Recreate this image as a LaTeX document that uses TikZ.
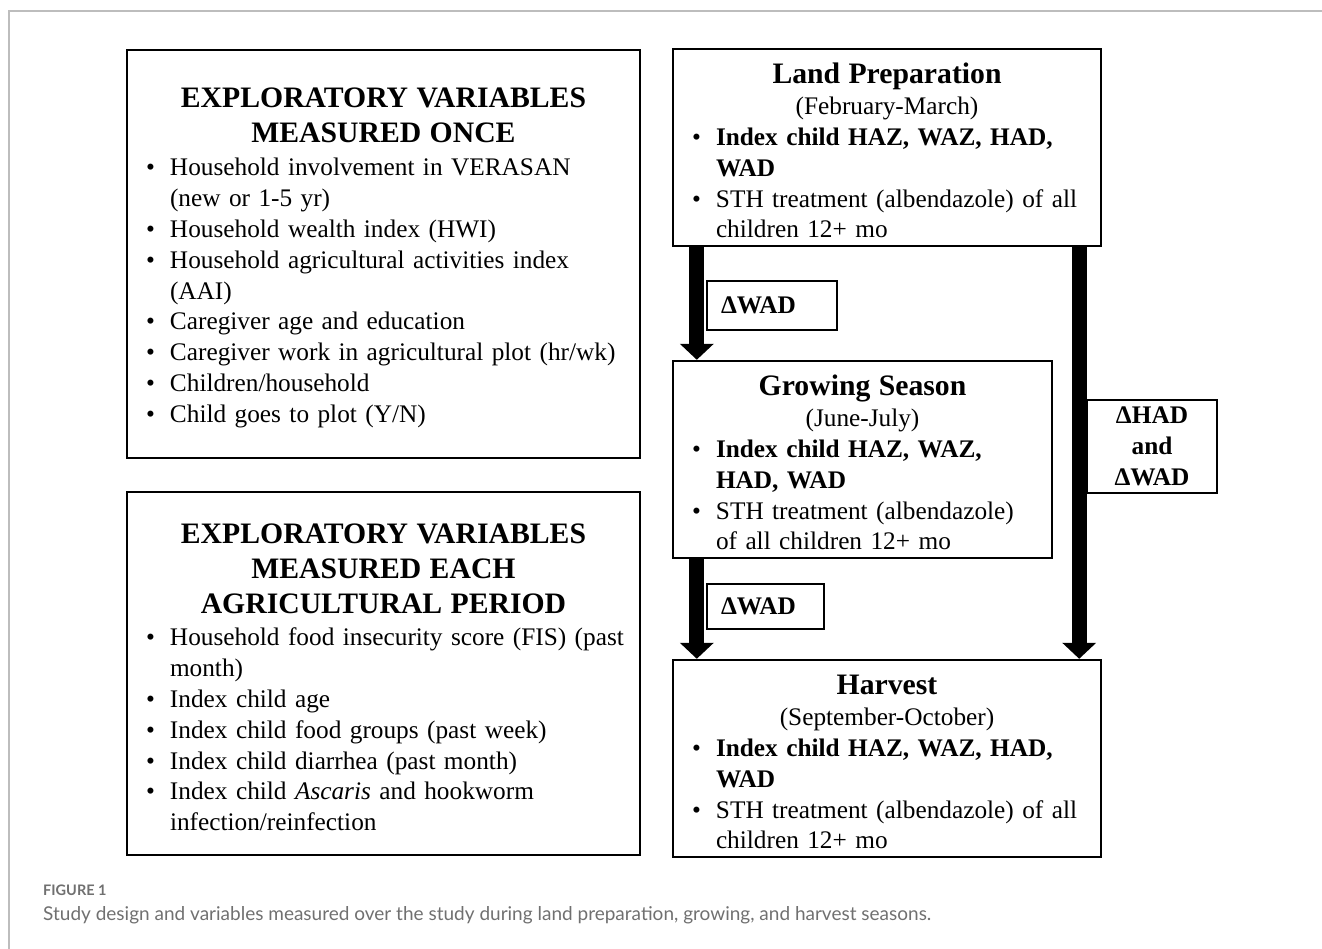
\documentclass[tikz,border=0pt]{standalone}
\usepackage{fontspec}
\setmainfont{Liberation Serif}
\newfontfamily\legfont{Lato}
\usetikzlibrary{arrows.meta}
\definecolor{griscadre}{HTML}{BDBDBD}
\definecolor{grisleg}{HTML}{707070}

% une puce avec retrait
\newcommand{\puce}[1]{\par\noindent\hangindent=24pt\hangafter=1%
  \makebox[24pt][l]{\textbullet}#1\par}
\newcommand{\titre}[1]{{\centering\fontsize{29.7}{35}\selectfont\bfseries\rule{0pt}{27pt}#1\par}}

\begin{document}
\begin{tikzpicture}[
    x=1pt, y=-1pt,
    boite/.style={draw, line width=2.4pt, inner xsep=19pt, inner ysep=0pt, align=left,
      font=\fontsize{25.3}{30.8}\selectfont},
    delta/.style={draw, line width=2pt, inner xsep=14pt, inner ysep=0pt,
      font=\fontsize{25.3}{31}\selectfont\bfseries},
    fleche/.style={line width=15pt, -{Triangle[width=33pt,length=16pt]}},
  ]
  \useasboundingbox (0,0) rectangle (1322,949);
  \draw[griscadre, line width=1.8pt] (1322,11) -- (9,11) -- (9,949);

  % variables
  \node[boite, text width=475pt, minimum height=408pt] (once) at (383.5,254) {%
    \titre{EXPLORATORY VARIABLES\\MEASURED ONCE}\vspace{3pt}
    \puce{Household involvement in VERASAN\newline(new or 1-5 yr)}
    \puce{Household wealth index (HWI)}
    \puce{Household agricultural activities index\newline(AAI)}
    \puce{Caregiver age and education}
    \puce{Caregiver work in agricultural plot (hr/wk)}
    \puce{Children/household}
    \puce{Child goes to plot (Y/N)}};
  \node[boite, text width=475pt, minimum height=363pt] (each) at (383.5,673.5) {%
    \titre{EXPLORATORY VARIABLES\\MEASURED EACH\\AGRICULTURAL PERIOD}\vspace{2pt}
    \puce{\mbox{Household food insecurity score (FIS) (past}\newline month)}
    \puce{Index child age}
    \puce{Index child food groups (past week)}
    \puce{Index child diarrhea (past month)}
    \puce{Index child \textit{Ascaris} and hookworm\newline infection/reinfection}};

  % saisons
  \node[boite, text width=390pt, minimum height=197pt] (lp) at (887,147.5) {%
    \titre{Land Preparation}
    {\centering (February-March)\par}
    \puce{\textbf{Index child HAZ, WAZ, HAD,\newline WAD}}
    \puce{STH treatment (albendazole) of all\newline children 12+ mo}};
  \node[boite, text width=341pt, minimum height=197pt] (gs) at (862.5,459.5) {%
    \titre{Growing Season}
    {\centering (June-July)\par}
    \puce{\textbf{Index child HAZ, WAZ,\newline HAD, WAD}}
    \puce{STH treatment (albendazole)\newline of all children 12+ mo}};
  \node[boite, text width=390pt, minimum height=197pt] (h) at (887,758.5) {%
    \titre{Harvest}
    {\centering (September-October)\par}
    \puce{\textbf{Index child HAZ, WAZ, HAD,\newline WAD}}
    \puce{STH treatment (albendazole) of all\newline children 12+ mo}};

  % fleches
  \draw[fleche] ([xshift=25pt]lp.south west) -- ([xshift=25pt]gs.north west);
  \draw[fleche] ([xshift=25pt]gs.south west) -- ([xshift=25pt]h.north west);
  \draw[fleche] ([xshift=-23pt]lp.south east) -- ([xshift=-23pt]h.north east);

  \node[delta, text width=102pt, align=left, minimum height=49pt, anchor=north west] (dwad1) at (706,280) {ΔWAD};
  \node[delta, text width=89pt, align=left, minimum height=45pt, anchor=north west] (dwad2) at (706,583) {ΔWAD};
  \node[delta, align=center, minimum width=130pt, minimum height=93pt, anchor=north west] (dhw) at (1086,399) {ΔHAD\\and\\ΔWAD};

  % legende
  \node[anchor=base west, inner sep=0pt, text=grisleg, font=\legfont\fontsize{14.5}{16}\selectfont\bfseries] (fig) at (43,895) {FIGURE 1};
  \node[anchor=base west, inner sep=0pt, text=grisleg, font=\legfont\fontsize{19}{21}\selectfont] (leg) at (43,920) {Study design and variables measured over the study during land preparation, growing, and harvest seasons.};
\end{tikzpicture}
\end{document}
